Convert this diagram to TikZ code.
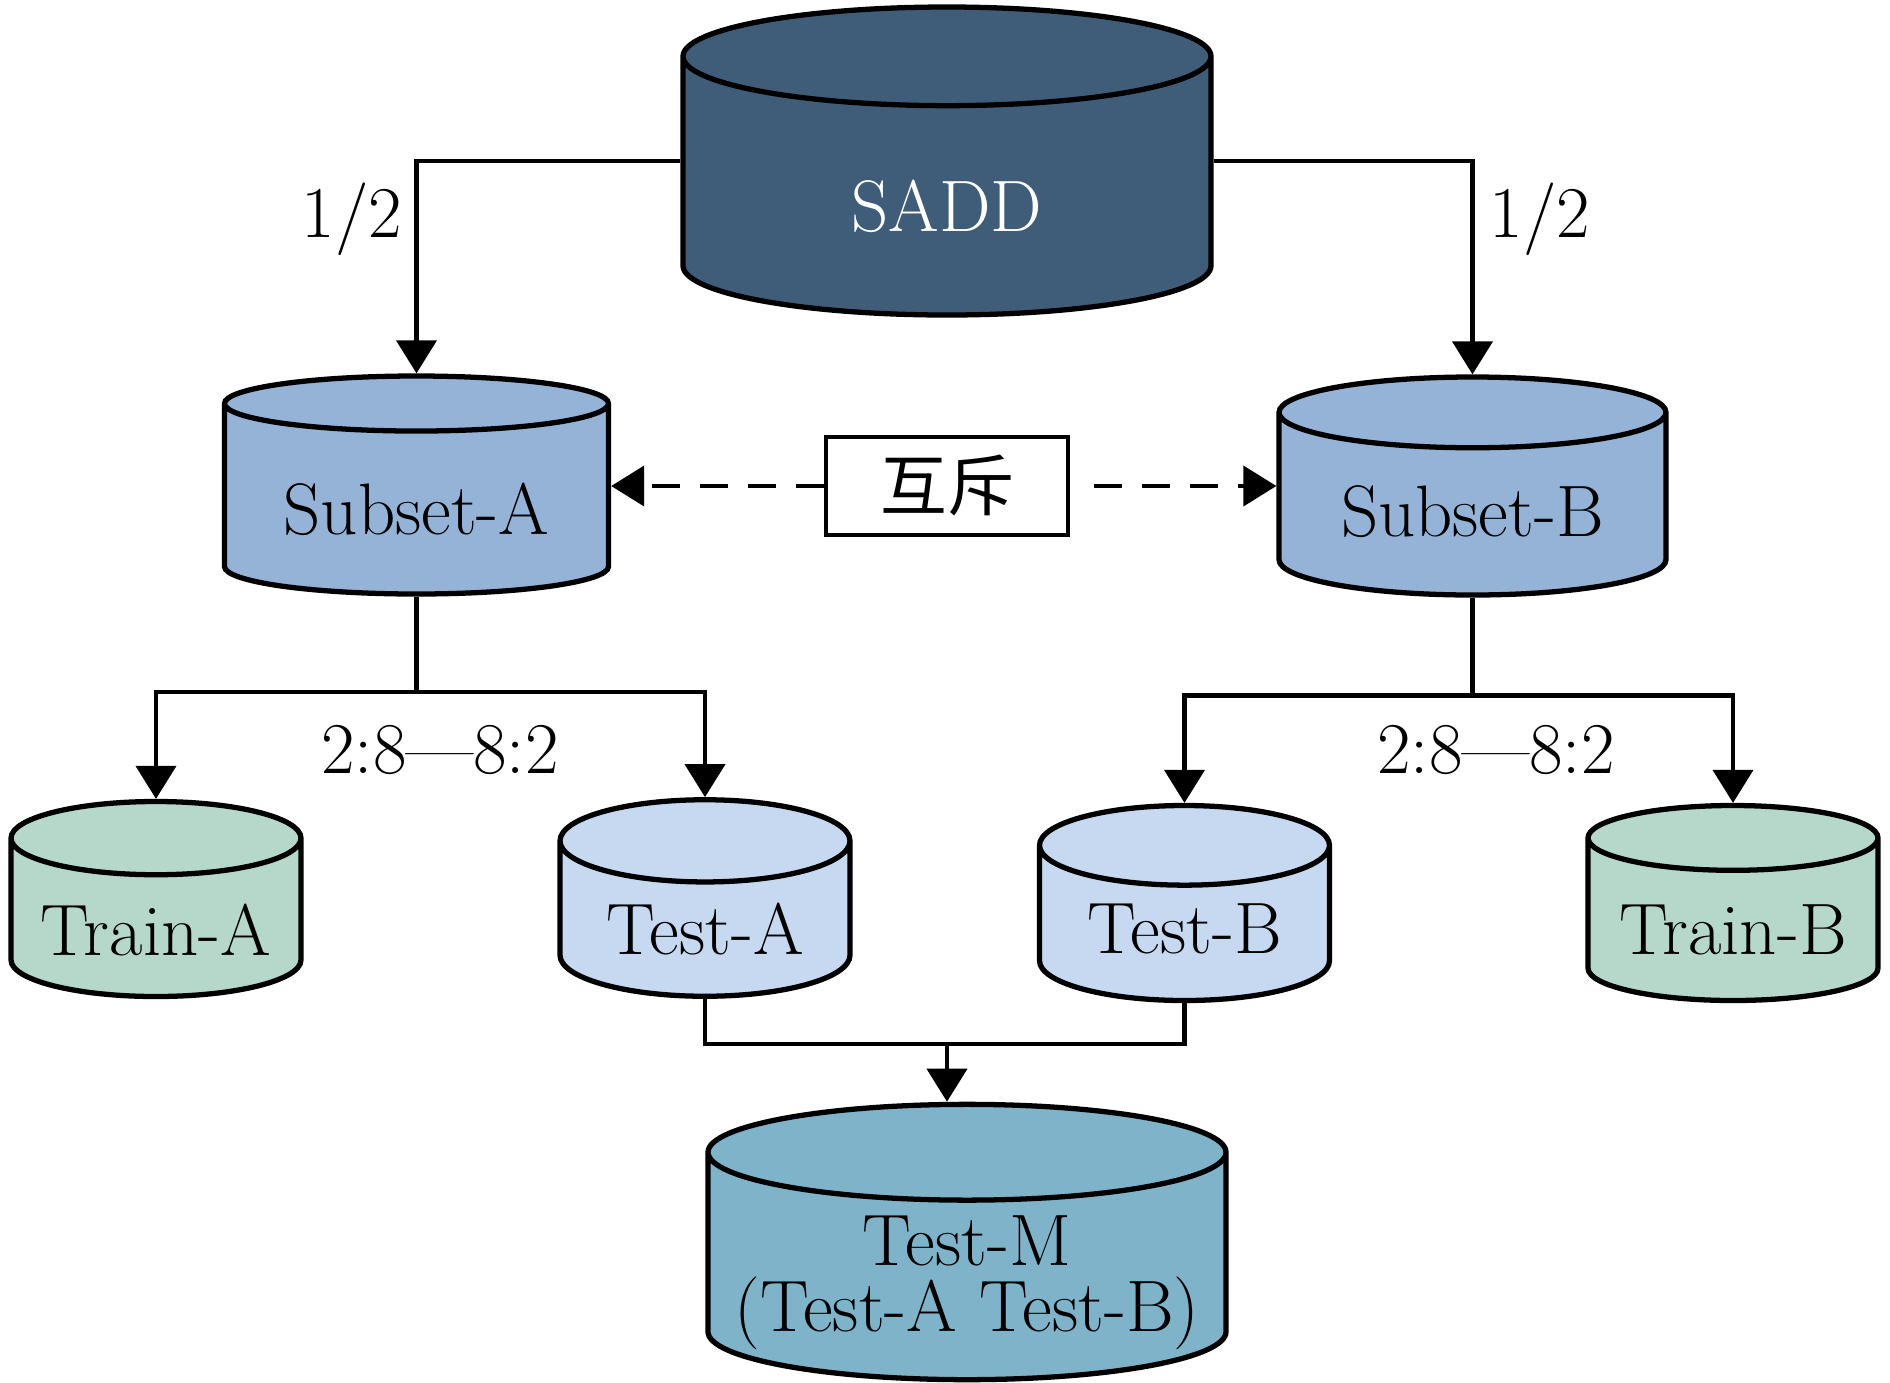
\documentclass[tikz,border=0pt]{standalone}
\usepackage{fontspec}
\newfontfamily\cjkfont{Noto Sans CJK SC}
\usetikzlibrary{shapes.geometric,arrows.meta,positioning}
\definecolor{saddblue}{HTML}{3F5D79}
\definecolor{subsetblue}{HTML}{95B3D7}
\definecolor{testblue}{HTML}{C6D9F1}
\definecolor{traingreen}{HTML}{B5D8CA}
\definecolor{mixblue}{HTML}{7FB3C9}
\begin{document}
\begin{tikzpicture}[
  every node/.style={font=\fontsize{20.74}{19}\selectfont},
  db/.style={cylinder,shape border rotate=90,draw,line width=1.5pt,anchor=shape center,inner sep=0pt},
  link/.style={line width=1.15pt},
  arr/.style={line width=1.15pt,-{Triangle[length=0.33cm,width=0.4cm]}},
  dasharr/.style={arr,dash pattern=on 0.28cm off 0.2cm}
]
  \useasboundingbox (0,0) rectangle (18.9,-13.82);
  \node[db,fill=saddblue,text=white,minimum width=5.28cm,minimum height=3.08cm,aspect=0.517,text height=0.91cm] (sadd) at (9.47,-1.61) {SADD};
  \node[db,fill=subsetblue,minimum width=3.84cm,minimum height=2.18cm,aspect=0.207,text height=0.69cm] (subA) at (4.165,-4.85) {Subset-A};
  \node[db,fill=subsetblue,minimum width=3.87cm,minimum height=2.18cm,aspect=0.269,text height=0.65cm] (subB) at (14.725,-4.86) {Subset-B};
  \node[db,fill=traingreen,minimum width=2.9cm,minimum height=1.95cm,aspect=0.318,text height=0.75cm] (trainA) at (1.56,-8.99) {Train-A};
  \node[db,fill=testblue,minimum width=2.9cm,minimum height=1.95cm,aspect=0.417,text height=0.70cm] (testA) at (7.05,-8.98) {Test-A};
  \node[db,fill=testblue,minimum width=2.9cm,minimum height=1.95cm,aspect=0.41,text height=0.59cm] (testB) at (11.845,-9.03) {Test-B};
  \node[db,fill=traingreen,minimum width=2.9cm,minimum height=1.95cm,aspect=0.285,text height=0.68cm] (trainB) at (17.33,-9.03) {Train-B};
  \node[db,fill=mixblue,minimum width=5.18cm,minimum height=2.7cm,aspect=0.206,align=center,text height=1.29cm,text depth=-0.05cm] (testM) at (9.67,-12.42) {Test-M\\(Test-A Test-B)};
  \node[draw,line width=1.15pt,minimum width=2.42cm,minimum height=0.98cm,inner sep=0pt,font=\fontsize{19}{19}\cjkfont] (mutex) at (9.47,-4.86) {互斥};

  \draw[arr] (sadd.west |- sadd.shape center) -| (subA.north);
  \draw[arr] (sadd.east |- sadd.shape center) -| (subB.north);
  \node (halfA) at (3.52,-2.19) {1/2};
  \node (halfB) at (15.40,-2.19) {1/2};

  \draw[dasharr] (mutex.west) -- (subA.east |- mutex.west);
  \draw[dasharr,shorten <=0.24cm] (mutex.east) -- (subB.west |- mutex.east);

  \coordinate (splitA) at (4.165,-6.92);
  \coordinate (splitB) at (14.725,-6.955);
  \draw[link] (subA.south) -- (splitA);
  \draw[arr] (splitA) -| (trainA.north);
  \draw[arr] (splitA) -| (testA.north);
  \draw[link] (subB.south) -- (splitB);
  \draw[arr] (splitB) -| (testB.north);
  \draw[arr] (splitB) -| (trainB.north);
  \node (ratioA) at (4.40,-7.50) {2:8—8:2};
  \node (ratioB) at (14.96,-7.50) {2:8—8:2};

  \coordinate (merge) at (9.47,-10.44);
  \draw[link] (testA.south) |- (merge) -| (testB.south);
  \draw[arr] (merge) -- (merge |- testM.north);
\end{tikzpicture}
\end{document}
